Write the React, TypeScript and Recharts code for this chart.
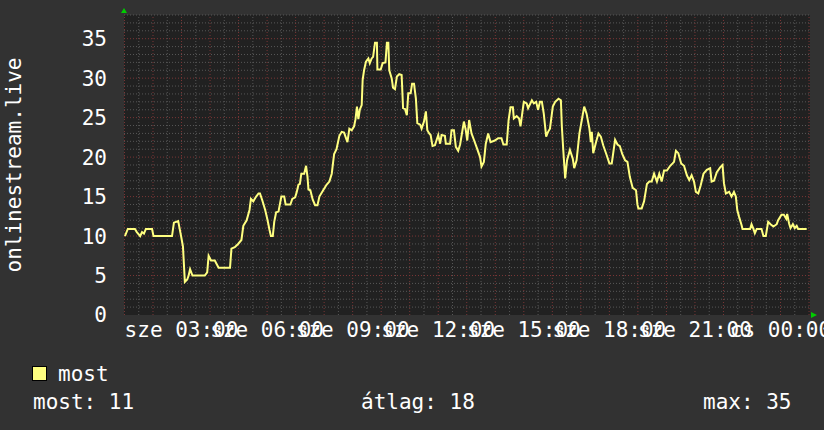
import React from 'react';
import { LineChart, Line, XAxis, YAxis, ReferenceLine, ReferenceDot, CartesianGrid } from 'recharts';

// time in minutes since Wednesday 00:00
const minutes = [
  61, 67, 82, 86, 93, 97, 101, 105, 118, 121, 160, 164, 173, 179, 183, 187, 192, 195, 198, 203,
  229, 234, 237, 242, 250, 258, 282, 285, 292, 299, 306, 310, 317, 323, 326, 331, 337, 342, 345, 350,
  356, 361, 365, 368, 372, 375, 379, 384, 390, 396, 399, 409, 413, 419, 422, 426, 429, 432, 438, 442,
  445, 447, 451, 456, 461, 466, 470, 478, 485, 491, 496, 501, 506, 512, 517, 522, 526, 529, 533, 538,
  543, 546, 549, 552, 555, 559, 561, 564, 568, 573, 576, 580, 583, 587, 591, 592, 599, 603, 609, 612,
  615, 617, 622, 625, 629, 633, 638, 643, 646, 650, 654, 657, 662, 665, 669, 673, 676, 682, 685, 690,
  694, 697, 701, 704, 708, 713, 720, 724, 727, 734, 736, 745, 748, 753, 757, 762, 766, 771, 774, 778,
  781, 785, 790, 795, 801, 808, 811, 816, 820, 825, 830, 839, 846, 853, 857, 864, 868, 872, 877, 879,
  885, 890, 893, 900, 906, 909, 917, 921, 926, 930, 934, 938, 942, 947, 951, 955, 961, 966, 973, 978,
  980, 983, 987, 991, 997, 1003, 1006, 1011, 1017, 1022, 1027, 1032, 1038, 1041, 1043, 1046, 1052, 1057, 1062, 1067,
  1074, 1080, 1085, 1092, 1097, 1102, 1107, 1113, 1118, 1123, 1129, 1136, 1139, 1141, 1148, 1153, 1159, 1164, 1169, 1174,
  1180, 1185, 1190, 1195, 1201, 1208, 1213, 1216, 1220, 1225, 1231, 1237, 1243, 1248, 1253, 1258, 1262, 1267, 1272, 1278,
  1285, 1292, 1295, 1300, 1306, 1313, 1318, 1321, 1325, 1332, 1337, 1342, 1346, 1349, 1353, 1358, 1360, 1376, 1379, 1383,
  1386, 1390, 1400, 1404, 1409, 1414, 1419, 1425, 1432, 1435, 1442, 1447, 1452, 1454, 1458, 1461, 1466, 1470, 1474, 1477,
  1495,
];

const most = [
  10, 10.9, 10.9, 10.5, 10, 10.5, 10.3, 10.9, 10.9, 10, 10, 11.7, 11.9, 10, 8.7, 4.2, 4.5, 5, 5.8, 5,
  5, 5.4, 7.5, 6.9, 6.9, 6, 6, 8.4, 8.6, 9, 9.5, 11.3, 12, 13.3, 14.7, 14.4, 15, 15.4, 15.4, 14.5,
  13.3, 12, 10.8, 10, 10, 11.8, 13, 13.1, 15, 15, 14, 14, 14.7, 14.9, 15.5, 16.5, 16.6, 17.9, 17.9, 18.9,
  17.5, 15.9, 15.8, 14.6, 13.9, 13.9, 15, 15.8, 16.5, 16.9, 17.9, 20.4, 21, 22.7, 23.2, 23.1, 22.4, 21.9, 23.6, 23.4,
  23.9, 24.8, 26.4, 24.8, 26, 26.6, 29.8, 31, 32.1, 32.5, 31.9, 32.5, 32.7, 34.5, 34.5, 31.1, 31.1, 31.9, 32, 34.5,
  34.5, 31, 30, 28.8, 28.6, 30.2, 30.5, 30.4, 26.2, 26.1, 25.3, 28.1, 28.1, 29.3, 29.3, 27.4, 24.3, 24.1, 23.6, 24.5,
  25.8, 23.4, 23, 22.8, 21.4, 21.5, 22.8, 21.7, 22.8, 22.7, 21.7, 21.7, 23.4, 23.4, 21.3, 20.8, 21.6, 23.4, 24.5, 23.4,
  22.1, 24.7, 23, 22.2, 21.2, 20, 18.8, 19.4, 21.7, 23, 21.9, 22.1, 22.4, 22.4, 21.6, 21.6, 24.7, 26.3, 26.3, 24.9,
  25.2, 24.9, 23.9, 27, 26.8, 26.2, 27.2, 26.8, 27, 26, 27, 27, 25.5, 22.6, 23.2, 23.6, 26.4, 27, 27.4, 27.2,
  23.9, 20.9, 17.3, 19.6, 20.9, 19.8, 18.6, 19.6, 23, 24.7, 26.4, 25.5, 23.6, 21.9, 23.2, 20.5, 21.9, 23, 22.6, 21.5,
  20.3, 19.2, 19.2, 22.2, 21.6, 21.4, 20.4, 19.6, 19.4, 17.5, 16.1, 15.8, 14, 13.5, 13.5, 14.4, 16.6, 16.9, 16.9, 17.9,
  16.9, 17.9, 16.9, 18.3, 18.3, 18.9, 19.2, 19.4, 20.8, 20.5, 19.2, 18.9, 17.7, 17.1, 17.7, 16.9, 15.6, 15.4, 16.4, 17.9,
  18.4, 18.6, 16.9, 17, 18.1, 18.7, 19, 16.7, 15.4, 15.6, 15, 15.6, 15, 13.3, 12.4, 11.4, 10.9, 10.9, 11.5, 10.9,
  10.35, 10.9, 10.9, 10, 10, 11.8, 11.5, 11.2, 11.5, 12, 12.7, 12.7, 12.2, 12.8, 11.6, 11, 11.5, 11, 11.3, 10.9,
  10.9,
];

const xTicks = [180, 360, 540, 720, 900, 1080, 1260, 1440];
const xTickLabels = ['sze 03:00', 'sze 06:00', 'sze 09:00', 'sze 12:00', 'sze 15:00', 'sze 18:00', 'sze 21:00', 'cs 00:00'];
const yTicks = [0, 5, 10, 15, 20, 25, 30, 35];

const seriesName = 'most';
const statLabels = ['most: 11', 'átlag: 18', 'max: 35'];
const axisTitle = 'onlinestream.live';

const X_DOMAIN: [number, number] = [59, 1502];
const Y_DOMAIN: [number, number] = [0, 38];

const majorX: number[] = [];
const minorX: number[] = [];
for (let m = 60; m <= 1500; m += 30) (m % 60 === 0 ? majorX : minorX).push(m);
const majorY: number[] = [];
const minorY: number[] = [];
for (let v = 1; v <= 38; v++) (v % 5 === 0 ? majorY : minorY).push(v);

const data = minutes.map((m, i) => ({ m, most: most[i] }));

const FONT = '"DejaVu Sans Mono", monospace';
const BG = '#323232';
const PLOT_BG = '#212121';
const MINOR = '#575757';
const MAJOR = '#7a3636';
const LINE = '#ffff80';
const ARROW = '#00cc00';

const UpArrow = (p: any) => (
  <polygon points={`${p.cx - 3},${p.cy - 2} ${p.cx + 3},${p.cy - 2} ${p.cx},${p.cy - 7}`} fill={ARROW} />
);
const RightArrow = (p: any) => (
  <polygon points={`${p.cx + 1},${p.cy - 3} ${p.cx + 1},${p.cy + 3} ${p.cx + 7},${p.cy}`} fill={ARROW} />
);

export default function App() {
  return (
    <div style={{ position: 'absolute', left: 0, top: 0, width: 824, height: 430, background: BG, overflow: 'hidden' }}>
      <LineChart
        width={824}
        height={430}
        data={data}
        margin={{ top: 15, right: 14, bottom: 85, left: 84 }}
        style={{ fontFamily: FONT }}
      >
        <CartesianGrid fill={PLOT_BG} horizontal={false} vertical={false} stroke="none" />
        {minorX.map((m) => (
          <ReferenceLine key={'mx' + m} x={m} stroke={MINOR} strokeDasharray="1 2" strokeWidth={1} />
        ))}
        {minorY.map((v) => (
          <ReferenceLine key={'my' + v} y={v} stroke={MINOR} strokeDasharray="1 2" strokeWidth={1} />
        ))}
        {majorX.map((m) => (
          <ReferenceLine key={'Mx' + m} x={m} stroke={MAJOR} strokeDasharray="1 2" strokeWidth={1} />
        ))}
        {majorY.map((v) => (
          <ReferenceLine key={'My' + v} y={v} stroke={MAJOR} strokeDasharray="1 2" strokeWidth={1} />
        ))}
        <XAxis
          dataKey="m"
          type="number"
          domain={X_DOMAIN}
          allowDataOverflow
          ticks={xTicks}
          interval={0}
          tickFormatter={(v: number) => xTickLabels[xTicks.indexOf(v)] ?? ''}
          height={30}
          axisLine={false}
          tickLine={false}
          tickSize={0}
          tickMargin={7}
          tick={{ fill: '#ffffff', fontSize: 21, fontFamily: FONT }}
        />
        <YAxis
          type="number"
          domain={Y_DOMAIN}
          allowDataOverflow
          ticks={yTicks}
          interval={0}
          width={40}
          axisLine={false}
          tickLine={false}
          tickSize={0}
          tickMargin={17}
          tick={{ fill: '#ffffff', fontSize: 21, fontFamily: FONT }}
        />
        <Line
          type="linear"
          dataKey="most"
          stroke={LINE}
          strokeWidth={2}
          dot={false}
          activeDot={false}
          isAnimationActive={false}
        />
        <ReferenceDot x={X_DOMAIN[0]} y={Y_DOMAIN[1]} ifOverflow="visible" shape={UpArrow} />
        <ReferenceDot x={X_DOMAIN[1]} y={Y_DOMAIN[0]} ifOverflow="visible" shape={RightArrow} />
      </LineChart>
      <svg width={824} height={430} style={{ position: 'absolute', left: 0, top: 0, pointerEvents: 'none' }}>
        <text
          x={21}
          y={165}
          transform="rotate(-90 21 165)"
          textAnchor="middle"
          fill="#ffffff"
          fontSize={21}
          fontFamily={FONT}
        >
          {axisTitle}
        </text>
        <rect x={32.5} y={366.5} width={14} height={14} fill={LINE} stroke="#000" strokeWidth={1} />
        <text x={58} y={381} fill="#ffffff" fontSize={21} fontFamily={FONT}>{seriesName}</text>
        <text x={33} y={409} fill="#ffffff" fontSize={21} fontFamily={FONT}>{statLabels[0]}</text>
        <text x={361} y={409} fill="#ffffff" fontSize={21} fontFamily={FONT}>{statLabels[1]}</text>
        <text x={703} y={409} fill="#ffffff" fontSize={21} fontFamily={FONT}>{statLabels[2]}</text>
      </svg>
    </div>
  );
}
